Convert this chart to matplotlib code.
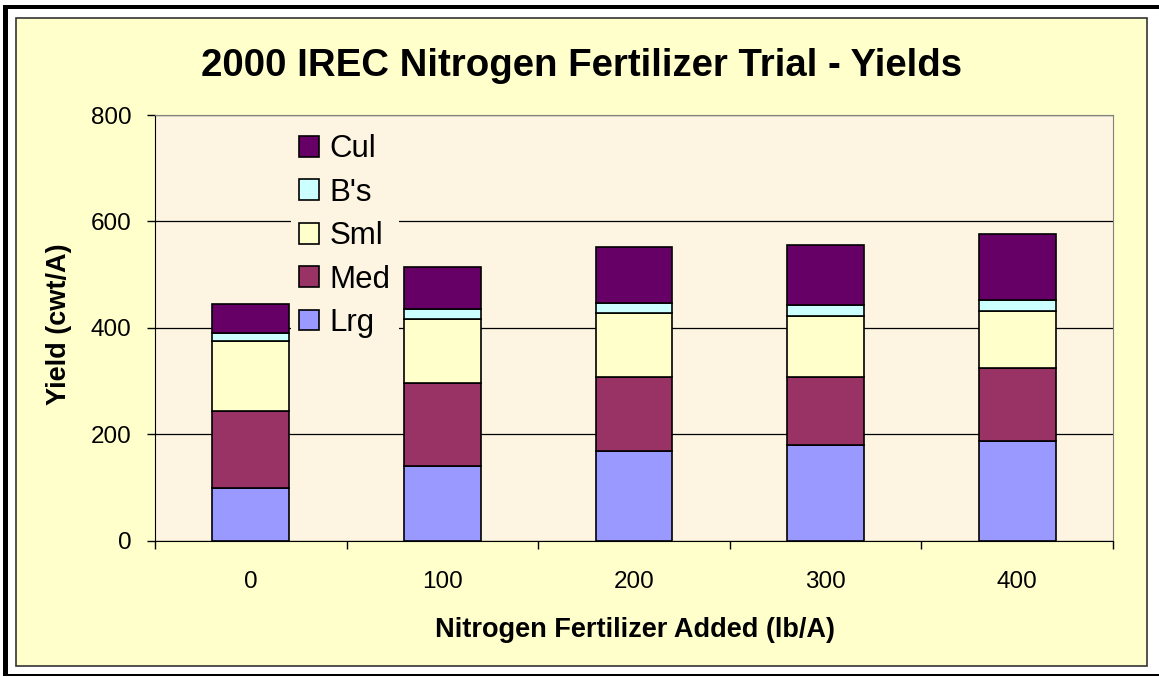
import numpy as np
import matplotlib
matplotlib.use("Agg")
import matplotlib.pyplot as plt
from matplotlib.patches import Rectangle

# data (stack tops converted to segment sizes)
nitrogen = ["0", "100", "200", "300", "400"]
lrg = [99, 141, 169, 179, 187]
med = [144, 155, 139, 129, 137]
sml = [132, 120, 119, 114, 107]
bs = [15, 20, 20, 20, 21]
cul = [55, 79, 105, 114, 124]

series = [("Lrg", lrg, "#9999FF"), ("Med", med, "#993366"),
          ("Sml", sml, "#FFFFCC"), ("B's", bs, "#CCFFFF"),
          ("Cul", cul, "#660066")]

W, H = 1159, 677
plt.rcParams["font.family"] = ["Liberation Sans", "DejaVu Sans"]

fig = plt.figure(figsize=(W / 100, H / 100), dpi=100, facecolor="white")


def box(x0, y0, x1, y1, **kw):
    # pixel box (y from the top) -> figure fraction rectangle
    r = Rectangle((x0 / W, 1 - y1 / H), (x1 - x0) / W, (y1 - y0) / H,
                  transform=fig.transFigure, **kw)
    fig.add_artist(r)


# outer frame
box(16, 18, 1147, 666, facecolor="#FFFFCC", edgecolor="#333333", lw=1.2, zorder=0)
box(3, 5, W, 9, facecolor="black", edgecolor="none", zorder=0)
box(3, 5, 8, 676, facecolor="black", edgecolor="none", zorder=0)
box(3, 674, W, 676, facecolor="black", edgecolor="none", zorder=0)

ax = fig.add_axes([155 / W, 1 - 540.5 / H, (1113 - 155) / W, (540.5 - 115) / H])
ax.set_facecolor("#FDF5E1")

x = np.arange(len(nitrogen))
bottom = np.zeros(len(nitrogen))
handles = {}
for name, vals, col in series:
    b = ax.bar(x, vals, width=0.40, bottom=bottom, color=col,
               edgecolor="black", linewidth=1.2, zorder=3)
    handles[name] = b
    bottom += np.array(vals)

ax.set_xlim(-0.5, 4.5)
ax.set_ylim(0, 800)
ax.set_yticks([0, 200, 400, 600, 800])
ax.yaxis.grid(True, color="black", linewidth=0.9, zorder=1)
ax.set_axisbelow(True)

ax.set_xticks(x)
ax.set_xticklabels(nitrogen)
ax.set_xticks(np.arange(-0.5, 5, 1), minor=True)
ax.tick_params(axis="x", which="major", length=0, pad=22, labelsize=17.5)
ax.tick_params(axis="x", which="minor", length=6, width=1, direction="out")
ax.tick_params(axis="y", length=6, width=1, pad=11, labelsize=17.5)

for s in ["top", "right"]:
    ax.spines[s].set_color("#808080")
for s in ["left", "bottom"]:
    ax.spines[s].set_color("black")

fig.text(582 / W, 1 - 66 / H, "2000 IREC Nitrogen Fertilizer Trial - Yields",
         ha="center", va="center", fontsize=27.6, fontweight="bold")
fig.text(635 / W, 1 - 630 / H, "Nitrogen Fertilizer Added (lb/A)",
         ha="center", va="center", fontsize=19.5, fontweight="bold")
fig.text(59 / W, 1 - 324 / H, "Yield (cwt/A)", rotation=90,
         ha="center", va="center", fontsize=19.5, fontweight="bold")

order = ["Cul", "B's", "Sml", "Med", "Lrg"]
leg = ax.legend([handles[n] for n in order], order, loc="upper left",
                bbox_to_anchor=((291 - 155) / 958, 1 - (126.5 - 115) / 425.5),
                fontsize=22.5, frameon=True, facecolor="#FDF5E1", edgecolor="none",
                framealpha=1, fancybox=False, borderpad=0.25, borderaxespad=0,
                handlelength=0.64, handleheight=0.64, handletextpad=0.35,
                labelspacing=0.43)
leg.set_zorder(5)

plt.savefig("out.png", dpi=100, facecolor=fig.get_facecolor())
